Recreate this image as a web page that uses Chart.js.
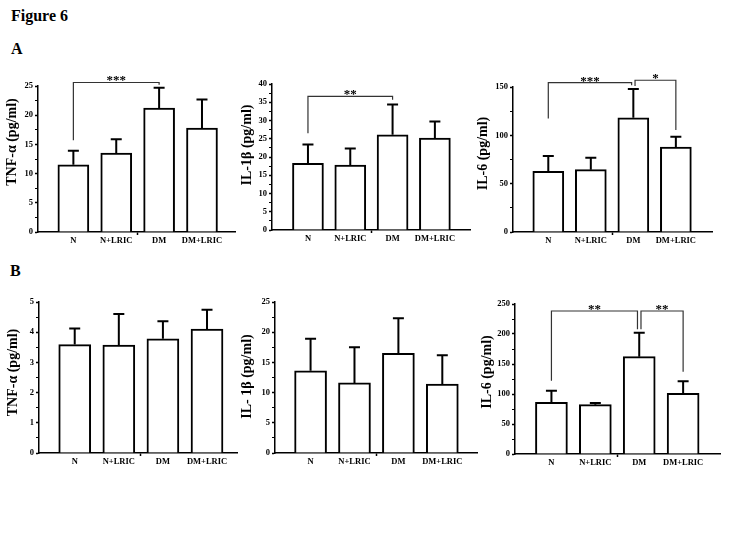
<!DOCTYPE html>
<html>
<head>
<meta charset="utf-8">
<script src="https://cdn.jsdelivr.net/npm/chart.js@4.4.1/dist/chart.umd.min.js"></script>
<style>
  body { margin: 0; background: #fff; width: 729px; height: 547px; position: relative; overflow: hidden; }
  .lbl { position: absolute; font-family: "Liberation Serif", serif; font-weight: bold; color: #000; line-height: 18px; }
  canvas { position: absolute; }
</style>
</head>
<body>
<div class="lbl" style="left:11px;top:7px;font-size:16px">Figure 6</div>
<div class="lbl" style="left:11px;top:40px;font-size:16px">A</div>
<div class="lbl" style="left:10px;top:262px;font-size:16px">B</div>
<canvas id="a1"></canvas>
<canvas id="a2"></canvas>
<canvas id="a3"></canvas>
<canvas id="b1"></canvas>
<canvas id="b2"></canvas>
<canvas id="b3"></canvas>
<script>
const groups = ["N", "N+LRIC", "DM", "DM+LRIC"];
const xTickPos = [1, 2, 2.5, 3, 4];

// panel A
const tnfA = [11.5, 13.5, 21.2, 17.8];
const tnfAErr = [2.4, 2.4, 3.5, 4.9];
const il1bA = [18.3, 17.8, 26.1, 25.2];
const il1bAErr = [5.1, 4.5, 8.3, 4.5];
const il6A = [62.8, 64.5, 118.1, 87.9];
const il6AErr = [15.8, 12.4, 29.9, 10.6];

// panel B
const tnfB = [3.59, 3.57, 3.78, 4.10];
const tnfBErr = [0.53, 1.03, 0.58, 0.64];
const il1bB = [13.6, 11.6, 16.5, 11.4];
const il1bBErr = [5.3, 5.9, 5.8, 4.8];
const il6B = [86.1, 82.2, 162.2, 101.1];
const il6BErr = [19.5, 2.8, 40, 20];

// significance brackets (values in data units)
const tnfASig = [{ from: 1, to: 3, y: 25.6, legFrom: 15.7, legTo: 25.2, label: "***" }];
const il1bASig = [{ from: 1, to: 3, y: 36.6, legFrom: 26.5, legTo: 35.7, label: "**" }];
const il6ASig = [
  { from: 1, to: 2.96, y: 154.5, legFrom: 117.4, legTo: 151.7, label: "***" },
  { from: 3.04, to: 4, y: 157, legFrom: 151, legTo: 105.4, label: "*" }
];
const il6BSig = [
  { from: 1, to: 2.96, y: 238.3, legFrom: 122, legTo: 208, label: "**" },
  { from: 3.04, to: 4, y: 238.3, legFrom: 208, legTo: 137, label: "**" }
];

const serif = "Liberation Serif";

function makeChart(p) {
  const cv = document.getElementById(p.id);
  cv.width = p.right - p.left + p.axisW + 10;
  cv.height = p.bottom - p.top + 25 + 28;
  cv.style.left = (p.left - p.axisW) + "px";
  cv.style.top = (p.top - 25) + "px";

  const isMajor = v => Math.abs(v / p.yStep - Math.round(v / p.yStep)) < 1e-6;

  const errorBars = {
    id: "errorBars",
    afterDatasetsDraw(chart) {
      const ctx = chart.ctx, y = chart.scales.y;
      chart.getDatasetMeta(0).data.forEach((bar, j) => {
        const top = y.getPixelForValue(p.values[j] + p.errors[j]);
        ctx.save();
        ctx.strokeStyle = "#000";
        ctx.lineWidth = 2;
        ctx.beginPath();
        ctx.moveTo(bar.x, bar.y);
        ctx.lineTo(bar.x, top);
        ctx.moveTo(bar.x - 5.5, top);
        ctx.lineTo(bar.x + 5.5, top);
        ctx.stroke();
        ctx.restore();
      });
    }
  };

  // brackets + y title (title drawn here so it can sit off-centre like the original)
  const extras = {
    id: "extras",
    afterDraw(chart) {
      const { ctx, chartArea, scales: { x, y } } = chart;
      (p.sig || []).forEach(b => {
        const x1 = x.getPixelForValue(b.from), x2 = x.getPixelForValue(b.to);
        const yt = y.getPixelForValue(b.y);
        ctx.save();
        ctx.strokeStyle = "#333";
        ctx.lineWidth = 1.2;
        ctx.beginPath();
        ctx.moveTo(x1, y.getPixelForValue(b.legFrom));
        ctx.lineTo(x1, yt);
        ctx.lineTo(x2, yt);
        ctx.lineTo(x2, y.getPixelForValue(b.legTo));
        ctx.stroke();
        ctx.fillStyle = "#000";
        ctx.font = "bold 13px '" + serif + "'";
        ctx.textAlign = "center";
        ctx.textBaseline = "alphabetic";
        ctx.fillText(b.label, (x1 + x2) / 2, yt + 2);
        ctx.restore();
      });

      ctx.save();
      ctx.translate(chartArea.left - p.axisW + 12, (chartArea.top + chartArea.bottom) / 2 - p.titleShift);
      ctx.rotate(-Math.PI / 2);
      ctx.fillStyle = "#000";
      ctx.font = "bold 14px '" + serif + "'";
      ctx.textAlign = "center";
      ctx.textBaseline = "middle";
      ctx.fillText(p.title, 0, 0);
      ctx.restore();
    }
  };

  new Chart(cv, {
    type: "bar",
    data: {
      datasets: [{
        data: p.values.map((v, i) => ({ x: i + 1, y: v })),
        backgroundColor: "#fff",
        borderColor: "#000",
        borderWidth: 2,
        barThickness: p.barW
      }]
    },
    options: {
      responsive: false,
      animation: false,
      layout: { padding: { top: 25, right: 10, left: 0, bottom: 0 } },
      plugins: { legend: { display: false }, tooltip: { enabled: false } },
      scales: {
        x: {
          type: "linear",
          min: p.xMin,
          max: p.xMax,
          offset: false,
          afterBuildTicks: s => { s.ticks = xTickPos.map(v => ({ value: v })); },
          afterFit: s => { s.height = 28; },
          grid: {
            drawOnChartArea: false,
            offset: false,
            tickLength: 3,
            tickWidth: 1.5,
            tickColor: c => (c.tick && c.tick.value === 2.5 ? "#000" : "rgba(0,0,0,0)")
          },
          border: { color: "#000", width: 1.5 },
          ticks: {
            autoSkip: false,
            maxRotation: 0,
            minRotation: 0,
            padding: 1,
            color: "#000",
            font: { family: serif, weight: "bold", size: 8.5 },
            callback: v => groups[v - 1] || ""
          }
        },
        y: {
          min: 0,
          max: p.yMax,
          afterFit: s => { s.width = p.axisW; },
          grid: {
            drawOnChartArea: false,
            tickLength: 3,
            tickColor: "#000",
            tickWidth: c => (c.tick && isMajor(c.tick.value) ? 1.5 : 1)
          },
          border: { color: "#000", width: 1.5 },
          ticks: {
            stepSize: p.yStep / 2,
            autoSkip: false,
            padding: 2,
            color: "#000",
            font: { family: serif, weight: "bold", size: 8.5 },
            callback: v => (isMajor(v) ? v : "")
          }
        }
      }
    },
    plugins: [errorBars, extras]
  });
}

makeChart({ id: "a1", left: 38, right: 235, top: 86, bottom: 232, axisW: 38, xMin: 0.175, xMax: 4.77, yMax: 25, yStep: 5, barW: 31,
  values: tnfA, errors: tnfAErr, sig: tnfASig, title: "TNF-\u03b1 (pg/ml)", titleShift: 17 });
makeChart({ id: "a2", left: 272, right: 470, top: 84, bottom: 230, axisW: 37, xMin: 0.15, xMax: 4.83, yMax: 40, yStep: 5, barW: 31,
  values: il1bA, errors: il1bAErr, sig: il1bASig, title: "IL-1\u03b2 (pg/ml)", titleShift: 12 });
makeChart({ id: "a3", left: 513, right: 712, top: 87, bottom: 232, axisW: 42, xMin: 0.17, xMax: 4.85, yMax: 150, yStep: 50, barW: 31,
  values: il6A, errors: il6AErr, sig: il6ASig, title: "IL-6 (pg/ml)", titleShift: 6 });
makeChart({ id: "b1", left: 39, right: 237, top: 302, bottom: 453, axisW: 38, xMin: 0.19, xMax: 4.68, yMax: 5, yStep: 1, barW: 32,
  values: tnfB, errors: tnfBErr, sig: [], title: "TNF-\u03b1 (pg/ml)", titleShift: 5 });
makeChart({ id: "b2", left: 275, right: 477, top: 302, bottom: 453, axisW: 40, xMin: 0.19, xMax: 4.79, yMax: 25, yStep: 5, barW: 32,
  values: il1bB, errors: il1bBErr, sig: [], title: "IL- 1\u03b2 (pg/ml)", titleShift: 1 });
makeChart({ id: "b3", left: 515, right: 720, top: 304, bottom: 454, axisW: 40, xMin: 0.17, xMax: 4.84, yMax: 250, yStep: 50, barW: 32,
  values: il6B, errors: il6BErr, sig: il6BSig, title: "IL-6 (pg/ml)", titleShift: 7 });
</script>
</body>
</html>
